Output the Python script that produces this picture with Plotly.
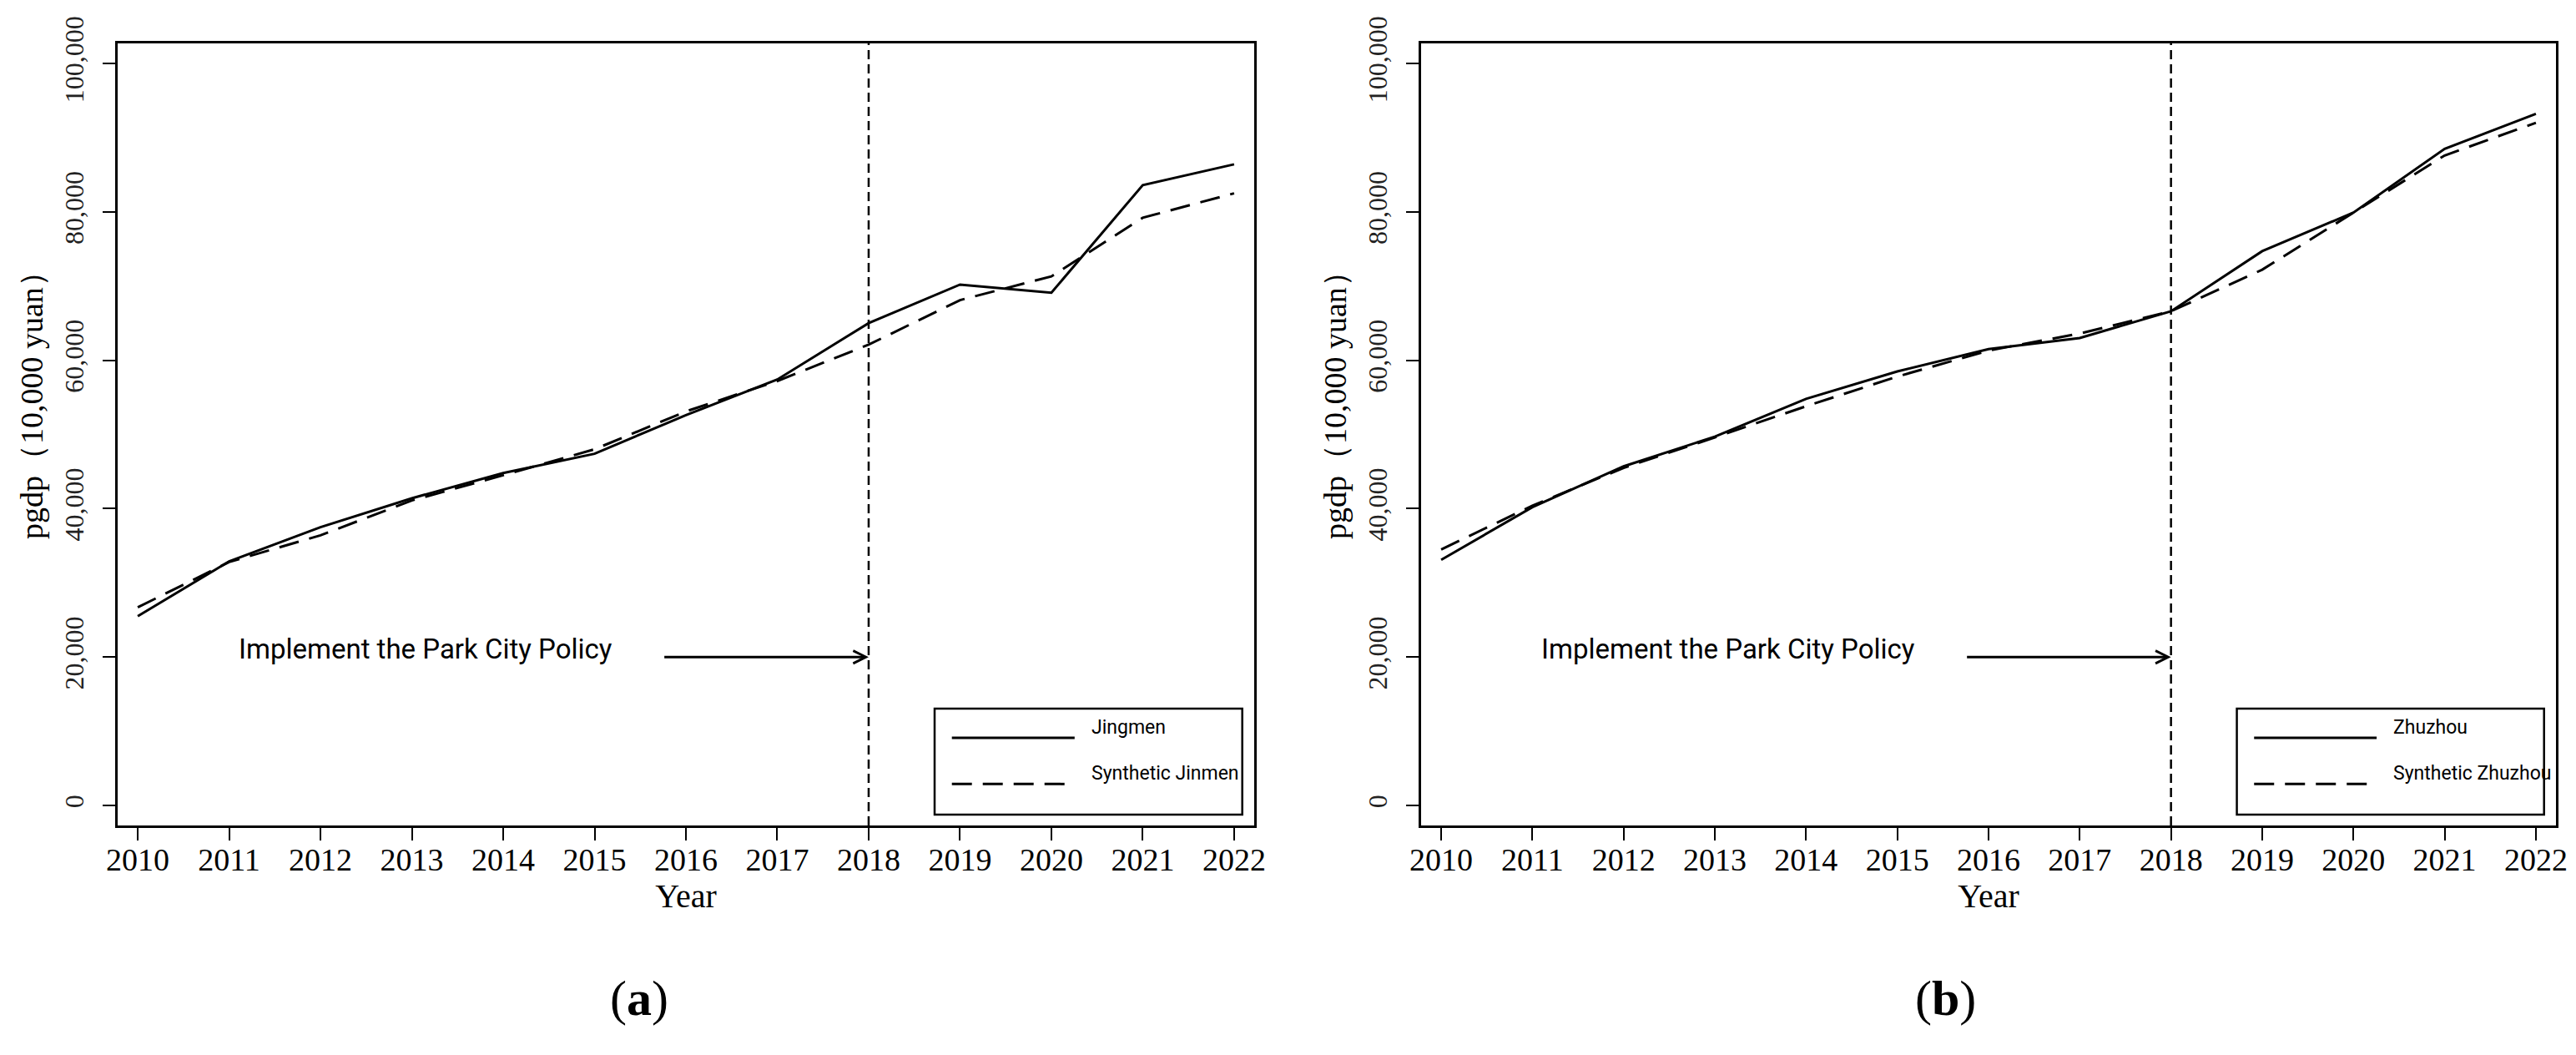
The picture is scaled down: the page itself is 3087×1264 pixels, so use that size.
import plotly.graph_objects as go

years = list(range(2010, 2023))

jingmen = [25500, 32900, 37500, 41400, 44800, 47400, 52600, 57400, 65000, 70200, 69100, 83600, 86400]
synthetic_jingmen = [26700, 32800, 36400, 41100, 44500, 48000, 53100, 57200, 62100, 68100, 71300, 79200, 82500]
zhuzhou = [33100, 40200, 45700, 49700, 54800, 58500, 61500, 63000, 66600, 74700, 79900, 88500, 93200]
synthetic_zhuzhou = [34500, 40400, 45500, 49600, 53800, 57800, 61300, 63600, 66600, 72200, 79900, 87600, 92000]

panels = [
    {"actual": ("Jingmen", jingmen), "synth": ("Synthetic Jinmen", synthetic_jingmen), "label": "(<b>a</b>)"},
    {"actual": ("Zhuzhou", zhuzhou), "synth": ("Synthetic Zhuzhou", synthetic_zhuzhou), "label": "(<b>b</b>)"},
]

policy_year = 2018
arrow_start = 2015.75
arrow_level = 20000
policy_text = "Implement the Park City Policy"
y_ticks = [0, 20000, 40000, 60000, 80000, 100000]
y_title = "pgdp（10,000 yuan）"

W, H = 3087, 1264
x_domains = [[133 / W, 1495 / W], [1695 / W, 3055 / W]]
y_domain = [1 - 981 / H, 1 - 44 / H]
label_x = [758 / W, 2323 / W]
ytitle_x = [30 / W, 1592 / W]

serif = "Liberation Serif"
sans = "Roboto"

fig = go.Figure()
shapes = []
annotations = []

for i, p in enumerate(panels):
    sx = "" if i == 0 else str(i + 1)
    xr, yr = "x" + sx, "y" + sx
    name_a, vals_a = p["actual"]
    name_s, vals_s = p["synth"]
    fig.add_trace(go.Scatter(x=years, y=vals_a, mode="lines", name=name_a,
                             line=dict(color="black", width=3), xaxis=xr, yaxis=yr,
                             showlegend=False))
    fig.add_trace(go.Scatter(x=years, y=vals_s, mode="lines", name=name_s,
                             line=dict(color="black", width=3, dash="24px,13px"),
                             xaxis=xr, yaxis=yr, showlegend=False))

    axis_common = dict(showline=True, linecolor="black", linewidth=3, mirror=True,
                       showgrid=False, zeroline=False, ticks="outside", ticklen=15,
                       tickwidth=2, tickcolor="black")
    fig.update_layout(**{
        "xaxis" + sx: dict(axis_common, domain=x_domains[i], range=[2009.78, 2022.22],
                           tickvals=years, ticktext=[str(y) for y in years],
                           tickfont=dict(family=serif, size=38, color="black"),
                           ticklabelstandoff=-10,
                           title=dict(text="Year", font=dict(family=serif, size=40, color="black"),
                                      standoff=0),
                           anchor=yr, automargin=False),
        "yaxis" + sx: dict(axis_common, domain=y_domain, range=[-2700, 102700],
                           tickvals=y_ticks, tickformat=",", tickangle=-90,
                           ticklabelstandoff=10,
                           tickfont=dict(family=serif, size=32, color="#222"),
                           anchor=xr, automargin=False),
    })

    # y axis title
    annotations.append(dict(x=ytitle_x[i], y=1 - 468 / H, xref="paper", yref="paper",
                            xanchor="center", yanchor="middle",
                            text=y_title, textangle=-90, showarrow=False,
                            font=dict(family=serif, size=38, color="black")))
    # policy line
    shapes.append(dict(type="line", xref=xr, yref=yr + " domain", x0=policy_year, x1=policy_year,
                       y0=0, y1=1, line=dict(color="black", width=2.5, dash="11px,6px")))
    # arrow
    annotations.append(dict(x=policy_year, y=arrow_level, ax=arrow_start, ay=arrow_level,
                            xref=xr, yref=yr, axref=xr, ayref=yr, text="", showarrow=True,
                            arrowhead=5, arrowwidth=3, arrowsize=1, arrowcolor="black",
                            standoff=0, startstandoff=0))
    annotations.append(dict(x=2013.15, y=arrow_level, xref=xr, yref=yr, text=policy_text,
                            showarrow=False, yshift=10, xanchor="center",
                            font=dict(family=sans, size=33, color="black")))
    # legend box
    shapes.append(dict(type="rect", xref=xr + " domain", yref=yr + " domain",
                       x0=0.7188, x1=0.9895, y0=0.0139, y1=0.1494,
                       line=dict(color="black", width=2.5), fillcolor="white"))
    for name, dash, yy in [(name_a, "solid", 0.112), (name_s, "24px,13px", 0.053)]:
        shapes.append(dict(type="line", xref=xr + " domain", yref=yr + " domain",
                           x0=0.734, x1=0.842, y0=yy, y1=yy,
                           line=dict(color="black", width=3, dash=dash)))
        annotations.append(dict(x=0.855, y=yy, xref=xr + " domain", yref=yr + " domain",
                                text=name, showarrow=False, xanchor="left", yshift=-3,
                                font=dict(family=sans, size=23, color="black")))
    # panel label
    annotations.append(dict(x=label_x[i], y=1 - 1188 / H, xref="paper", yref="paper",
                            xanchor="center", yanchor="middle",
                            text=p["label"], showarrow=False,
                            font=dict(family=serif, size=60, color="black")))

fig.update_layout(width=W, height=H, margin=dict(l=0, r=0, t=0, b=0),
                  paper_bgcolor="white", plot_bgcolor="white",
                  shapes=shapes, annotations=annotations)

fig.write_html("out.html")
